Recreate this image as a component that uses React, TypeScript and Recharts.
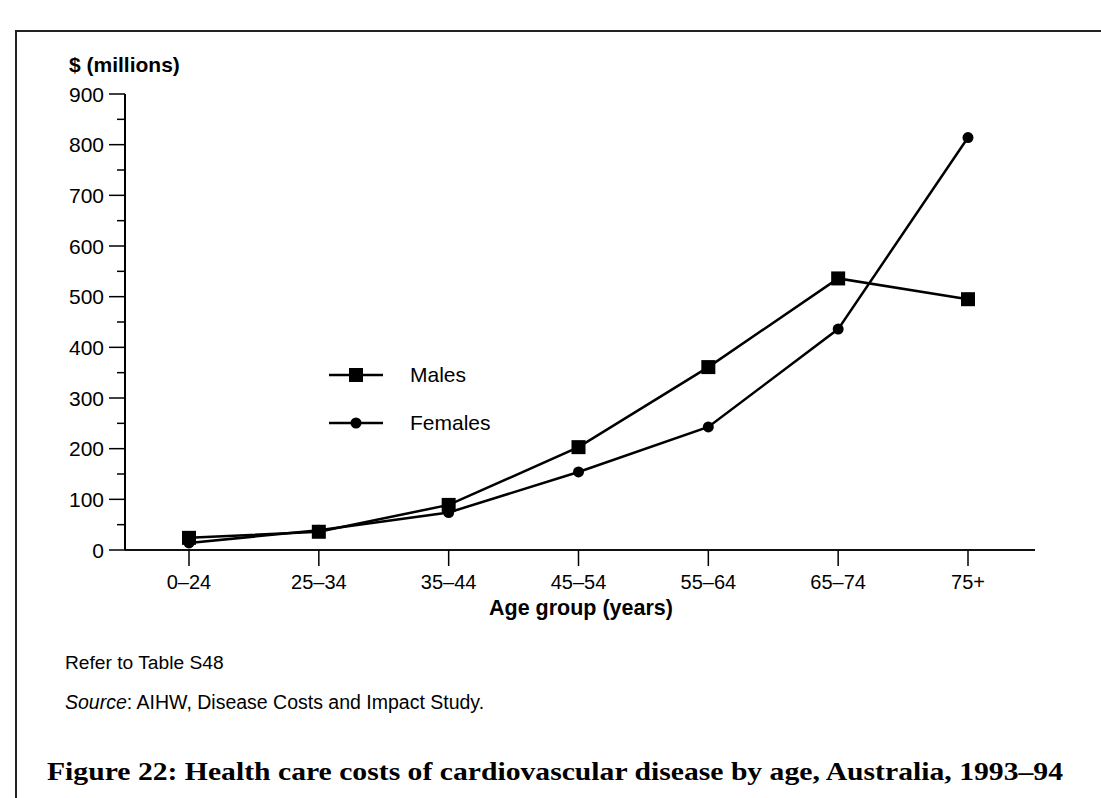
import { LineChart, Line, XAxis, YAxis } from 'recharts';

const ageGroups = ['0–24', '25–34', '35–44', '45–54', '55–64', '65–74', '75+'];
const males = [24, 36, 89, 203, 361, 536, 495];
const females = [14, 39, 74, 154, 243, 436, 814];
const yTicks = [0, 50, 100, 150, 200, 250, 300, 350, 400, 450, 500, 550, 600, 650, 700, 750, 800, 850, 900];

const data = ageGroups.map((age, i) => ({ age, males: males[i], females: females[i] }));

const FONT = '"Liberation Sans", Arial, Helvetica, sans-serif';

const SquareDot = (props: any) => {
  const { cx, cy } = props;
  if (cx == null || cy == null) return null;
  return <rect x={cx - 7} y={cy - 7} width={14} height={14} fill="#000" />;
};

const RoundDot = (props: any) => {
  const { cx, cy } = props;
  if (cx == null || cy == null) return null;
  return <circle cx={cx} cy={cy} r={5.5} fill="#000" />;
};

const YTick = (props: any) => {
  const { x, y, payload } = props;
  const major = payload.value % 100 === 0;
  return (
    <g>
      <line x1={x - (major ? 16 : 8)} x2={x} y1={y} y2={y} stroke="#000" strokeWidth={1.5} />
      {major && (
        <text x={x - 21} y={y} textAnchor="end" dominantBaseline="central" fontSize={21} fontFamily={FONT} fill="#000">
          {payload.value}
        </text>
      )}
    </g>
  );
};

const XTick = (props: any) => {
  const { x, y, payload } = props;
  return (
    <g>
      <line x1={x} x2={x} y1={y} y2={y + 16} stroke="#000" strokeWidth={1.5} />
      <text x={x} y={y + 32} textAnchor="middle" dominantBaseline="central" fontSize={20} fontFamily={FONT} fill="#000">
        {payload.value}
      </text>
    </g>
  );
};

const LegendRow = ({ label, square, top }: { label: string; square: boolean; top: number }) => (
  <div style={{ position: 'absolute', left: 329, top: top - 12, height: 24, display: 'flex', alignItems: 'center' }}>
    <svg width={54} height={24}>
      <line x1={0} x2={54} y1={12} y2={12} stroke="#000" strokeWidth={2.5} />
      {square ? <rect x={20} y={5} width={14} height={14} fill="#000" /> : <circle cx={27} cy={12} r={5.5} fill="#000" />}
    </svg>
    <span style={{ marginLeft: 27, fontSize: 21, fontFamily: FONT }}>{label}</span>
  </div>
);

export default function App() {
  return (
    <div style={{ position: 'fixed', left: 0, top: 0, width: 1101, height: 798, background: '#fff', overflow: 'hidden' }}>
      <div style={{ position: 'absolute', left: 15, top: 30, width: 1200, height: 900, borderLeft: '2px solid #222', borderTop: '2px solid #222' }} />

      <div style={{ position: 'absolute', left: 69, top: 53, fontSize: 21, fontWeight: 'bold', fontFamily: FONT, lineHeight: '24px' }}>
        $ (millions)
      </div>

      <div style={{ position: 'absolute', left: 0, top: 0 }}>
        <LineChart width={1101} height={798} data={data} margin={{ top: 94, right: 66, bottom: 208, left: 65 }}>
          <XAxis
            dataKey="age"
            height={40}
            padding={{ left: 64, right: 67 }}
            axisLine={{ stroke: '#111', strokeWidth: 2 }}
            tickLine={false}
            tickSize={0}
            tickMargin={0}
            tick={<XTick />}
            interval={0}
          />
          <YAxis
            width={60}
            domain={[0, 900]}
            ticks={yTicks}
            interval={0}
            axisLine={{ stroke: '#000', strokeWidth: 2 }}
            tickLine={false}
            tickSize={0}
            tickMargin={0}
            tick={<YTick />}
          />
          <Line dataKey="males" stroke="#000" strokeWidth={2.5} dot={<SquareDot />} isAnimationActive={false} />
          <Line dataKey="females" stroke="#000" strokeWidth={2.5} dot={<RoundDot />} isAnimationActive={false} />
        </LineChart>
      </div>

      <LegendRow label="Males" square top={375} />
      <LegendRow label="Females" square={false} top={423} />

      <div style={{ position: 'absolute', left: 0, width: 1162, top: 596, textAlign: 'center', fontSize: 21.5, fontWeight: 'bold', fontFamily: FONT, lineHeight: '24px' }}>
        Age group (years)
      </div>

      <div style={{ position: 'absolute', left: 65, top: 651, fontSize: 19.2, fontFamily: FONT, lineHeight: '24px' }}>
        Refer to Table S48
      </div>
      <div style={{ position: 'absolute', left: 65, top: 690, fontSize: 19.5, fontFamily: FONT, lineHeight: '24px' }}>
        <i>Source</i>: AIHW, Disease Costs and Impact Study.
      </div>

      <svg style={{ position: 'absolute', left: 0, top: 740 }} width={1101} height={58}>
        <text
          x={47}
          y={40}
          textLength={1016}
          lengthAdjust="spacingAndGlyphs"
          fontSize={26}
          fontWeight="bold"
          fontFamily='"Liberation Serif", "Times New Roman", serif'
          fill="#000"
        >
          Figure 22: Health care costs of cardiovascular disease by age, Australia, 1993–94
        </text>
      </svg>
    </div>
  );
}
